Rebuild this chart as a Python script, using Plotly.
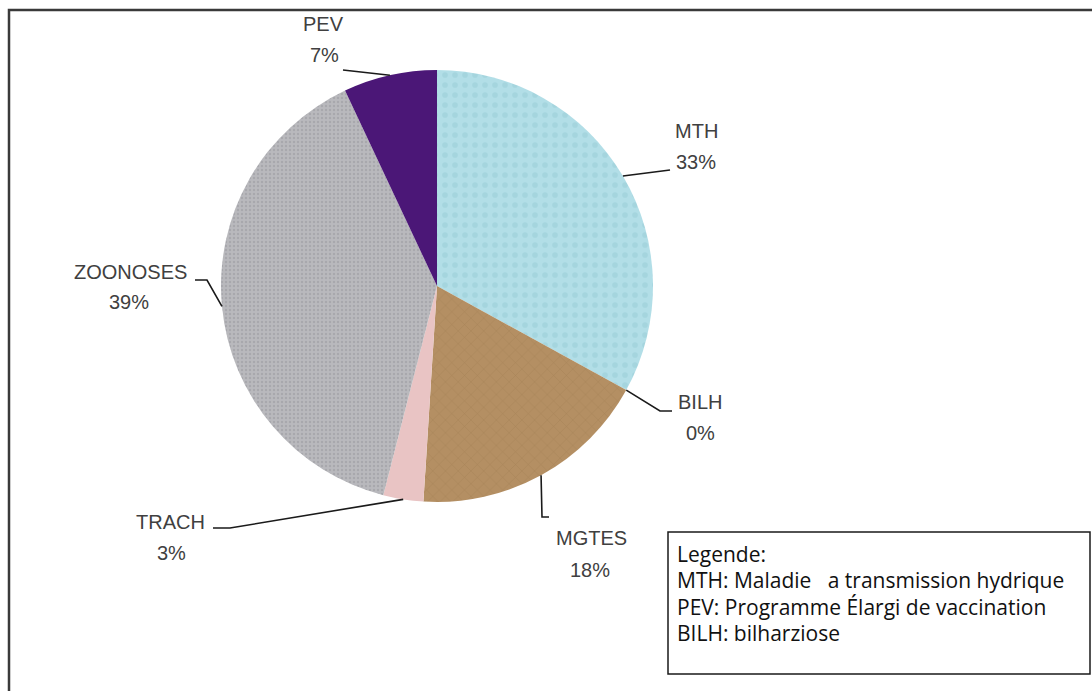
import math
import plotly.graph_objects as go

# ---- data ----
labels = ["MTH", "BILH", "MGTES", "TRACH", "ZOONOSES", "PEV"]
values = [33, 0.0001, 18, 3, 39, 7]
pct_text = ["33%", "0%", "18%", "3%", "39%", "7%"]
colors = ["#b2dee7", "#c9a27a", "#b48f63", "#e9c4c4", "#b9b9bd", "#4b1777"]
legend_lines = [
    "Legende:",
    "MTH: Maladie   a transmission hydrique",
    "PEV: Programme Élargi de vaccination",
    "BILH: bilharziose",
]

W, H = 1092, 691
cx, cy, R = 437, 286, 216  # pie centre / radius in pixels (layout)

def px(x):
    return x / W

def py(y):
    return 1 - y / H

fig = go.Figure()
fig.add_trace(go.Pie(
    labels=labels,
    values=values,
    sort=False,
    direction="clockwise",
    rotation=0,
    textinfo="none",
    hoverinfo="label+percent",
    showlegend=False,
    marker=dict(
        colors=colors,
        line=dict(width=0),
        pattern=dict(
            shape=[".", "", "x", "", ".", ""],
            fgcolor=["#98cbd6", "#b08d62", "#9a774d", "#e9c4c4", "#96969b", "#4b1777"],
            size=[10, 8, 9, 8, 4, 8],
            solidity=[0.25, 0.2, 0.12, 0.2, 0.3, 0.2],
            fillmode="overlay",
        ),
    ),
    domain=dict(x=[px(cx - R), px(cx + R)], y=[py(cy + R), py(cy - R)]),
))

# label placement: (name centre, pct centre, leader points after the edge point) in pixels
label_pos = {
    "PEV": ((323, 24), (324, 55), [(343, 70)]),
    "MTH": ((696, 131), (696, 162), [(670, 170)]),
    "BILH": ((700, 402), (700, 433), [(660, 411), (672, 411)]),
    "MGTES": ((591, 538), (590, 570), [(542, 517), (549, 517)]),
    "TRACH": ((170, 522), (171, 553), [(230, 528), (213, 528)]),
    "ZOONOSES": ((130, 272), (129, 302), [(207, 280), (195, 280)]),
}

font_lbl = dict(family="Liberation Sans", size=20, color="#404040")

total = sum(values)
cum = 0.0
for lab, v, t in zip(labels, values, pct_text):
    mid = (cum + v / 2) / total * 2 * math.pi
    cum += v
    ex = cx + R * math.sin(mid)
    ey = cy - R * math.cos(mid)
    (nx, ny), (tx, ty), rest = label_pos[lab]
    pts = [(ex, ey)] + rest
    path = "M " + " L ".join(f"{px(a)},{py(b)}" for a, b in pts)
    fig.add_shape(type="path", path=path, xref="paper", yref="paper",
                  line=dict(color="#1a1a1a", width=1.6))
    fig.add_annotation(x=px(nx), y=py(ny), xref="paper", yref="paper",
                       text=lab, showarrow=False,
                       xanchor="center", yanchor="middle", font=font_lbl)
    fig.add_annotation(x=px(tx), y=py(ty), xref="paper", yref="paper",
                       text=t, showarrow=False,
                       xanchor="center", yanchor="middle", font=font_lbl)

# outer frame
fig.add_shape(type="rect", xref="paper", yref="paper",
              x0=px(9), y0=py(10), x1=px(1100), y1=py(700),
              line=dict(color="#3a3a3a", width=2.5), fillcolor="rgba(0,0,0,0)")

# legend box
fig.add_shape(type="rect", xref="paper", yref="paper",
              x0=px(668), y0=py(532), x1=px(1090), y1=py(674),
              line=dict(color="#1a1a1a", width=1.5), fillcolor="white")
for i, line in enumerate(legend_lines):
    fig.add_annotation(x=px(675), y=py(554 + 26.3 * i), xref="paper", yref="paper",
                       text=line, showarrow=False,
                       xanchor="left", yanchor="middle", align="left",
                       font=dict(family="Open Sans", size=21, color="#111111"))

fig.update_layout(
    width=W, height=H,
    margin=dict(l=0, r=0, t=0, b=0),
    paper_bgcolor="white",
    plot_bgcolor="white",
)

fig.write_html("out.html")
